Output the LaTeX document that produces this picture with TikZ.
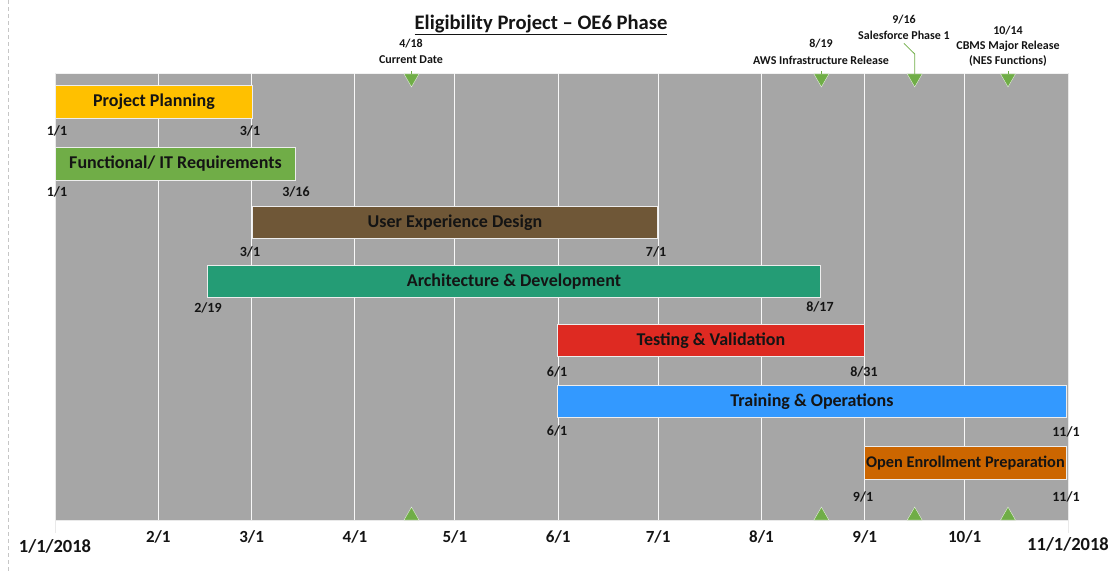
\documentclass[tikz,border=0pt]{standalone}
\usepackage{fontspec}
\setmainfont{Carlito}[BoldFont={Carlito Bold}]
\usetikzlibrary{shapes.geometric}
\definecolor{bgc}{HTML}{A6A6A6}
\definecolor{ppc}{HTML}{FFC000}
\definecolor{fitc}{HTML}{70AD47}
\definecolor{uxc}{HTML}{6F5737}
\definecolor{arc}{HTML}{249C75}
\definecolor{tsc}{HTML}{DE2A22}
\definecolor{trc}{HTML}{3399FF}
\definecolor{oec}{HTML}{CC6600}
\definecolor{tric}{HTML}{70AD47}
\definecolor{txt}{HTML}{141414}
\tikzset{
  barbox/.style={draw=white!80!bgc, line width=0.9pt, anchor=north west, inner sep=0pt,
    text=txt, font=\fontsize{18}{20}\selectfont\bfseries},
  datelab/.style={text=txt, inner sep=0pt, font=\fontsize{14}{16}\selectfont\bfseries},
  mslab/.style={text=txt, inner sep=0pt, font=\fontsize{12}{14}\selectfont\bfseries},
  axlab/.style={text=txt, inner sep=0pt, font=\fontsize{17}{19}\selectfont\bfseries},
  axend/.style={text=txt, inner sep=0pt, font=\fontsize{18.5}{20}\selectfont\bfseries},
  gridln/.style={white!92!bgc, line width=0.9pt},
  tridown/.style={regular polygon, regular polygon sides=3, shape border rotate=180,
    fill=tric, draw=white!80!tric, line width=0.4pt, minimum size=17.3pt, inner sep=0pt},
  triup/.style={regular polygon, regular polygon sides=3,
    fill=tric, draw=white!80!tric, line width=0.4pt, minimum size=17.3pt, inner sep=0pt},
  leader/.style={draw=tric, line width=0.8pt},
  ticks/.style={draw=white!75!bgc, line width=0.9pt}
}
\begin{document}
\begin{tikzpicture}[x=1pt,y=-1pt]
\useasboundingbox (0,0) rectangle (1108,573);
% page edge
\draw[gray!45, line width=0.7pt, dash pattern=on 4pt off 3pt] (8.5,0) -- (8.5,573);
% title
\node[text=txt, inner sep=0pt, font=\fontsize{20.6}{22}\selectfont\bfseries] (title) at (541,25) {\underline{Eligibility Project – OE6 Phase}};
% plot area
\fill[bgc] (55,73) rectangle (1068,520);
\draw[white!85!bgc, line width=0.6pt] (55,73) -- (1068,73);
\foreach \d in {31,59,90,120,151,181,212,243,273}
  \draw[gridln] ({55+3.3322*\d},73) -- ({55+3.3322*\d},520);
\draw[ticks] (55,73) -- (55,533);
\draw[ticks] (1068,73) -- (1068,533);
\draw[ticks] (55,520) -- (1068,520);
% bars
\node[barbox, fill=ppc, minimum width=197pt, minimum height=33pt] (pp) at (55,85) {Project Planning};
\node[barbox, fill=fitc, minimum width=240pt, minimum height=33pt] (fit) at (55,147) {Functional/ IT Requirements};
\node[barbox, fill=uxc, minimum width=405pt, minimum height=32pt] (ux) at (252,206) {User Experience Design};
\node[barbox, fill=arc, minimum width=613pt, minimum height=32pt] (ar) at (207,265) {Architecture \& Development};
\node[barbox, fill=tsc, minimum width=307pt, minimum height=32pt] (ts) at (557,324) {Testing \& Validation};
\node[barbox, fill=trc, minimum width=509pt, minimum height=32pt] (tr) at (557,385) {Training \& Operations};
\node[barbox, fill=oec, minimum width=202pt, minimum height=33pt, font=\fontsize{16.3}{18}\selectfont\bfseries] (oe) at (864,446) {Open Enrollment Preparation};
% bar date labels
\node[datelab] (pps) at (57,131) {1/1};
\node[datelab] (ppe) at (250,131) {3/1};
\node[datelab] (fits) at (57,192) {1/1};
\node[datelab] (fite) at (296,192) {3/16};
\node[datelab] (uxs) at (250,252) {3/1};
\node[datelab] (uxe) at (656,252) {7/1};
\node[datelab] (ars) at (208,308) {2/19};
\node[datelab] (are) at (820,307) {8/17};
\node[datelab] (tss) at (557,372) {6/1};
\node[datelab] (tse) at (864,372) {8/31};
\node[datelab] (trs) at (557,431) {6/1};
\node[datelab] (tre) at (1066,432) {11/1};
\node[datelab] (oes) at (863,497) {9/1};
\node[datelab] (oee) at (1066,497) {11/1};
% milestones top
\node[tridown] (cdt) at (411.5,78.3) {};
\node[tridown] (awst) at (821.4,78.3) {};
\node[tridown] (sft) at (914.7,78.3) {};
\node[tridown] (cbt) at (1008,78.3) {};
% milestones bottom
\node[triup] (cdb) at (411.5,515.7) {};
\node[triup] (awsb) at (821.4,515.7) {};
\node[triup] (sfb) at (914.7,515.7) {};
\node[triup] (cbb) at (1008,515.7) {};
% milestone labels
\node[mslab] (cdd) at (411,44) {4/18};
\node[mslab] (cdl) at (411,60) {Current Date};
\node[mslab] (awsd) at (821,44) {8/19};
\node[mslab] (awsl) at (821,60) {AWS Infrastructure Release};
\node[mslab] (sfd) at (904,20) {9/16};
\node[mslab] (sfl) at (904,35) {Salesforce Phase 1};
\node[mslab] (cbd) at (1008,31) {10/14};
\node[mslab] (cbl) at (1008,46) {CBMS Major Release};
\node[mslab] (cbn) at (1008,61) {(NES Functions)};
% leaders
\coordinate (sfbend) at (914.7,54);
\draw[leader] ([yshift=-4pt]sfl.south) -- (sfbend) -- (sft.north);
\draw[leader] (cdt.north) -- ++(0,-3);
\draw[leader] (awst.north) -- ++(0,-3);
\draw[leader] (cbt.north) -- ++(0,-3);
% axis labels
\node[axend] (a1) at (55,546) {1/1/2018};
\node[axlab] (a2) at ({55+3.3322*31},537) {2/1};
\node[axlab] (a3) at ({55+3.3322*59},537) {3/1};
\node[axlab] (a4) at ({55+3.3322*90},537) {4/1};
\node[axlab] (a5) at ({55+3.3322*120},537) {5/1};
\node[axlab] (a6) at ({55+3.3322*151},537) {6/1};
\node[axlab] (a7) at ({55+3.3322*181},537) {7/1};
\node[axlab] (a8) at ({55+3.3322*212},537) {8/1};
\node[axlab] (a9) at ({55+3.3322*243},537) {9/1};
\node[axlab] (a10) at ({55+3.3322*273},537) {10/1};
\node[axend] (a11) at (1068,544) {11/1/2018};
\end{tikzpicture}
\end{document}
